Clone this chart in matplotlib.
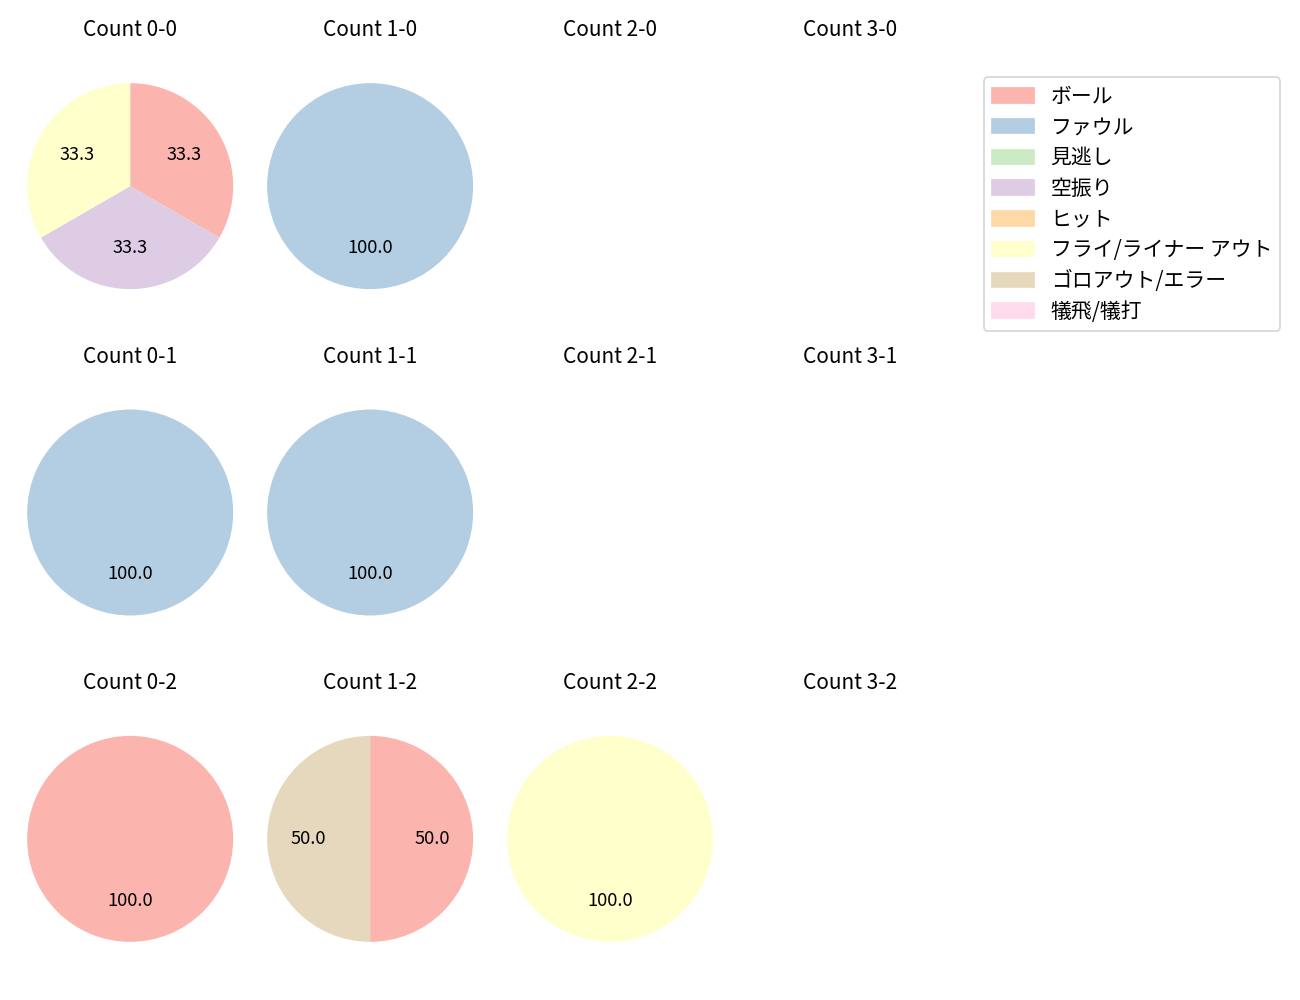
import matplotlib.pyplot as plt
from matplotlib.patches import Patch

plt.rcParams['font.family'] = ['Noto Sans CJK JP', 'DejaVu Sans']

labels = ["ボール", "ファウル", "見逃し", "空振り", "ヒット",
          "フライ/ライナー アウト", "ゴロアウト/エラー", "犠飛/犠打"]
colors = ["#fbb4ae", "#b3cde3", "#ccebc5", "#decbe4", "#fed9a6",
          "#ffffcc", "#e5d8bd", "#fddaec"]

balls = [0, 1, 2, 3]
strikes = [0, 1, 2]

# 結果の件数 (ボール, ファウル, 見逃し, 空振り, ヒット, フライ, ゴロ, 犠打)
counts = {
    (0, 0): [1, 0, 0, 1, 0, 1, 0, 0],
    (1, 0): [0, 1, 0, 0, 0, 0, 0, 0],
    (0, 1): [0, 1, 0, 0, 0, 0, 0, 0],
    (1, 1): [0, 1, 0, 0, 0, 0, 0, 0],
    (0, 2): [1, 0, 0, 0, 0, 0, 0, 0],
    (1, 2): [1, 0, 0, 0, 0, 0, 1, 0],
    (2, 2): [0, 0, 0, 0, 0, 1, 0, 0],
}

fig, axes = plt.subplots(3, 4, figsize=(10.4, 8))

for s in strikes:
    for b in balls:
        ax = axes[s][b]
        ax.set_title(f"Count {b}-{s}", fontsize=12, pad=4.5)
        vals = counts.get((b, s))
        if vals is None or sum(vals) == 0:
            ax.axis("off")
            continue
        v = [x for x in vals if x > 0]
        c = [colors[i] for i, x in enumerate(vals) if x > 0]
        ax.pie(v, colors=c, autopct="%.1f", startangle=90, counterclock=False,
               textprops={"fontsize": 10.5})
        ax.axis("equal")

handles = [Patch(color=c, label=l) for c, l in zip(colors, labels)]
fig.legend(handles=handles, loc="upper right", bbox_to_anchor=(0.993, 0.933),
           fontsize=12, labelspacing=0.42)

fig.subplots_adjust(left=0.013, right=0.741, top=0.956, bottom=0.019,
                    wspace=0.059, hspace=0.148)
plt.savefig("out.png", dpi=125)
